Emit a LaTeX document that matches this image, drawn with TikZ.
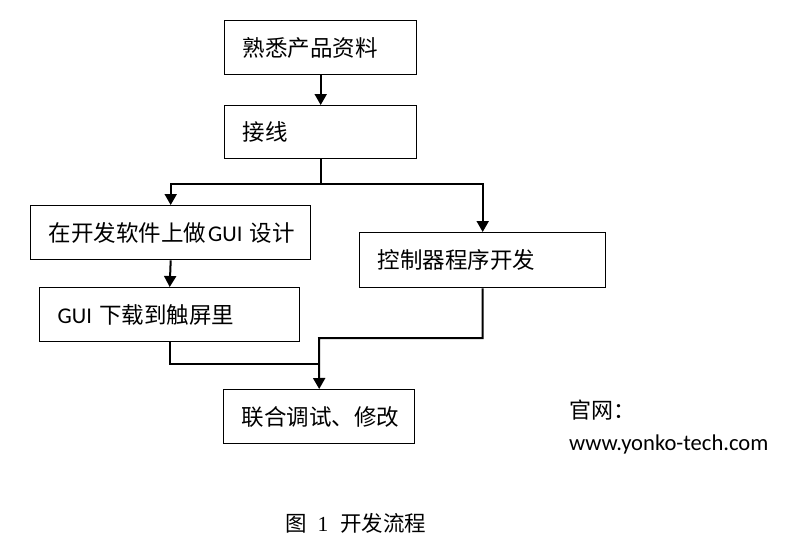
\documentclass[tikz,border=0pt]{standalone}
\usepackage{fontspec}
\setmainfont{Carlito}
\newfontfamily\cjk{Noto Sans CJK SC}
\newfontfamily\serifnum{Liberation Serif}
\usetikzlibrary{arrows.meta}
\tikzset{
  flowbox/.style={draw=black, line width=1.4pt, anchor=north west, inner xsep=18pt, inner ysep=0pt,
    align=left, font=\fontsize{22.5}{26}\selectfont},
  conn/.style={draw=black, line width=2pt},
  arr/.style={conn, -{Triangle[length=11pt,width=12pt]}},
  plain/.style={anchor=west, inner sep=0pt, font=\fontsize{22}{26}\selectfont}
}
\begin{document}
\begin{tikzpicture}[x=1pt,y=-1pt]
\useasboundingbox (0,0) rectangle (812,554);
\node[flowbox, text width=156pt, minimum height=54pt] (b1) at (224,20) {\cjk 熟悉产品资料};
\node[flowbox, text width=156pt, minimum height=53pt] (b2) at (224,105) {\cjk 接线};
\node[flowbox, text width=244pt, minimum height=54pt] (b3) at (30,205) {\mbox{{\cjk 在开发软件上做}\hspace{2pt}GUI {\cjk 设计}}};
\node[flowbox, text width=224pt, minimum height=54pt] (b4) at (39,287) {GUI {\cjk 下载到触屏里}};
\node[flowbox, text width=210pt, minimum height=55pt] (b5) at (359,232) {\cjk 控制器程序开发};
\node[flowbox, text width=155pt, minimum height=54pt] (b6) at (223,389) {\cjk 联合调试、修改};

\path (b2.south) ++(0,25) coordinate (s1);
\coordinate (j1) at (319,338);
\coordinate (j2) at (319,364);

\draw[arr] (b1.south) -- (b2.north);
\draw[conn] (b2.south) -- (s1);
\draw[arr] (s1) -| (b3.north);
\draw[arr] (s1) -| (b5.north);
\draw[arr] (b3.south) -- (b4.north);
\draw[conn] (b4.south) |- (j2);
\draw[arr] (b5.south) |- (j1) -- (b6.north);

\node[plain] (web) at (569,410) {\cjk 官网：};
\node[plain, font=\fontsize{22.6}{26}\selectfont] (url) at (569,444) {www.yonko-tech.com};
\node[plain, font=\fontsize{21.5}{26}\selectfont] (cap) at (285,523) {{\cjk 图}\hspace{11pt}{\serifnum 1}\hspace{12pt}{\cjk 开发流程}};
\end{tikzpicture}
\end{document}
